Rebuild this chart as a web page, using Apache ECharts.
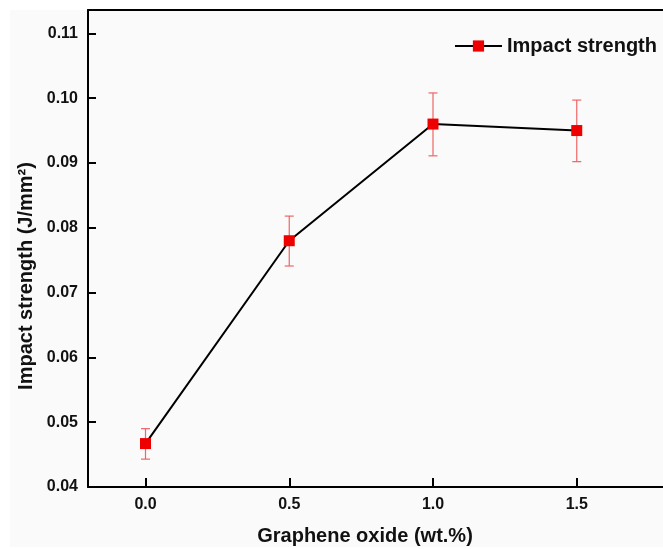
<!DOCTYPE html>
<html>
<head>
<meta charset="utf-8">
<script src="https://cdn.jsdelivr.net/npm/echarts@6/dist/echarts.min.js"></script>
<style>
  html, body { margin: 0; padding: 0; background: #fff; }
  #chart { width: 663px; height: 549px; }
</style>
</head>
<body>
<div id="chart"></div>
<script>
// data
const goContent = [0.0, 0.5, 1.0, 1.5];
const impactStrength = [0.0467, 0.078, 0.096, 0.095];
const errLow = [0.0443, 0.0741, 0.0911, 0.0902];
const errHigh = [0.049, 0.0818, 0.1008, 0.0997];
const xTicks = [0.0, 0.5, 1.0, 1.5];
const yTicks = [0.04, 0.05, 0.06, 0.07, 0.08, 0.09, 0.10, 0.11];

const chart = echarts.init(document.getElementById("chart"));

const labelFont = {
  fontFamily: "Liberation Sans, Arial, sans-serif",
  fontWeight: "bold",
  color: "#111",
};

const option = {
  backgroundColor: "#fff",
  animation: false,
  grid: { left: 88, right: -10, top: 10, bottom: 62 },
  legend: {
    data: ["Impact strength"],
    right: 1,
    top: 31,
    itemWidth: 47,
    itemHeight: 14,
    itemGap: 6,
    textStyle: Object.assign({ fontSize: 20 }, labelFont),
  },
  graphic: [
    {
      type: "rect",
      z: -10,
      silent: true,
      shape: { x: 10, y: 10, width: 653, height: 537 },
      style: { fill: "#fafafa" },
    },
    {
      type: "text",
      x: 365,
      y: 536,
      style: {
        text: "Graphene oxide (wt.%)",
        fontSize: 20,
        fontFamily: labelFont.fontFamily,
        fontWeight: "bold",
        textAlign: "center",
        textVerticalAlign: "middle",
        fill: "#111",
      },
    },
    {
      type: "text",
      x: 26,
      y: 276,
      rotation: Math.PI / 2,
      style: {
        text: "Impact strength (J/mm²)",
        fontSize: 20,
        fontFamily: labelFont.fontFamily,
        fontWeight: "bold",
        textAlign: "center",
        textVerticalAlign: "middle",
        fill: "#111",
      },
    },
  ],
  xAxis: [
    {
      type: "value",
      min: -0.2,
      max: 1.8,
      axisLine: { onZero: false, lineStyle: { color: "#000", width: 2 } },
      axisTick: { inside: true, length: 9, customValues: xTicks, lineStyle: { color: "#000", width: 2 } },
      axisLabel: Object.assign(
        { fontSize: 16, margin: 10, customValues: xTicks, formatter: (v) => v.toFixed(1) },
        labelFont
      ),
      splitLine: { show: false },
    },
    {
      type: "value",
      position: "top",
      min: -0.2,
      max: 1.8,
      axisLine: { show: true, onZero: false, lineStyle: { color: "#000", width: 2 } },
      axisTick: { show: false },
      axisLabel: { show: false },
      splitLine: { show: false },
    },
  ],
  yAxis: {
    type: "value",
    min: 0.04,
    max: 0.1136,
    axisLine: { show: true, onZero: false, lineStyle: { color: "#000", width: 2 } },
    axisTick: { show: true, inside: true, length: 8, customValues: yTicks, lineStyle: { color: "#000", width: 2 } },
    axisLabel: Object.assign(
      { fontSize: 16, margin: 10, customValues: yTicks, formatter: (v) => v.toFixed(2) },
      labelFont
    ),
    splitLine: { show: false },
  },
  series: [
    {
      // error bars
      type: "custom",
      xAxisIndex: 0,
      z: 1,
      silent: true,
      data: goContent.map((x, i) => [x, errLow[i], errHigh[i]]),
      encode: { x: 0, y: [1, 2] },
      renderItem: function (params, api) {
        const x = api.value(0);
        const lo = api.coord([x, api.value(1)]);
        const hi = api.coord([x, api.value(2)]);
        const hw = 4.5;
        const style = { stroke: "#f06464", lineWidth: 1.2 };
        return {
          type: "group",
          children: [
            { type: "line", shape: { x1: hi[0], y1: hi[1], x2: lo[0], y2: lo[1] }, style: style },
            { type: "line", shape: { x1: hi[0] - hw, y1: hi[1], x2: hi[0] + hw, y2: hi[1] }, style: style },
            { type: "line", shape: { x1: lo[0] - hw, y1: lo[1], x2: lo[0] + hw, y2: lo[1] }, style: style },
          ],
        };
      },
    },
    {
      name: "Impact strength",
      type: "line",
      xAxisIndex: 0,
      z: 3,
      data: goContent.map((x, i) => [x, impactStrength[i]]),
      symbol: "rect",
      symbolSize: 11,
      itemStyle: { color: "#ee0000" },
      lineStyle: { color: "#000", width: 2 },
    },
  ],
};

chart.setOption(option);
</script>
</body>
</html>
